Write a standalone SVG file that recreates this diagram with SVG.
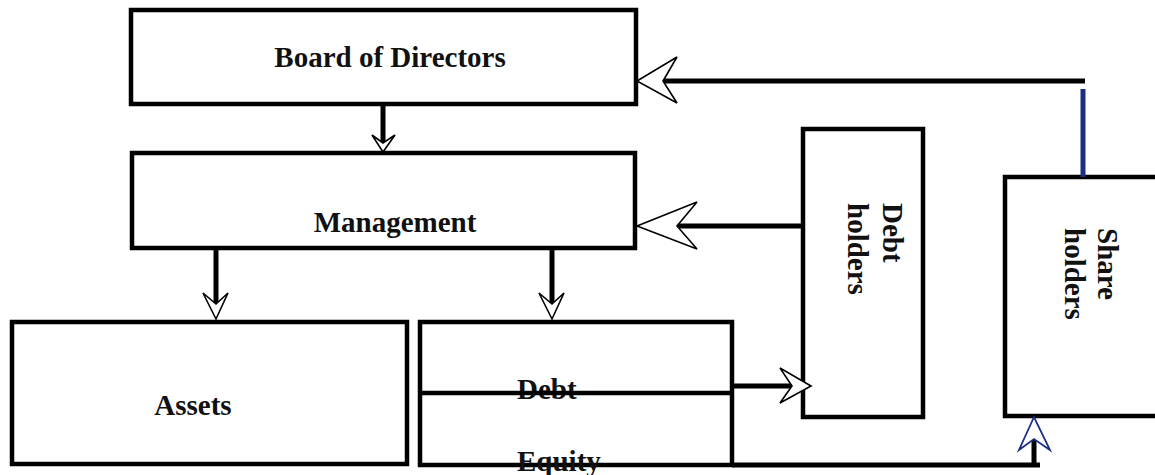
<svg xmlns="http://www.w3.org/2000/svg" width="1155" height="475" viewBox="0 0 1155 475">
<style>
.box{fill:#fff;stroke:#000;stroke-width:4.5}
.lbl{font-family:"Liberation Serif","Times New Roman",serif;font-weight:bold;font-size:29px;fill:#111}
.shaft{stroke:#000;stroke-width:5;fill:none}
.head{fill:#fff;stroke:#000;stroke-width:1.6;stroke-linejoin:miter}
.blue{stroke:#1c2e84}
.bhead{fill:#fff;stroke:#1c2e84;stroke-width:1.8}
</style>
<rect width="1155" height="475" fill="#fff"/>
<g id="board">
<rect class="box" x="131" y="10" width="505" height="94"/>
<text class="lbl" x="390" y="67" text-anchor="middle">Board of Directors</text>
</g>
<g id="management">
<rect class="box" x="132" y="153" width="503" height="95"/>
<text class="lbl" x="395" y="232" text-anchor="middle">Management</text>
</g>
<g id="assets">
<rect class="box" x="12" y="322" width="395" height="142"/>
<text class="lbl" x="193" y="415" text-anchor="middle">Assets</text>
</g>
<g id="debt-equity">
<rect class="box" x="420" y="322" width="312" height="143"/>
<text class="lbl" x="517" y="399">Debt</text>
<text class="lbl" x="517" y="471">Equity</text>
<line x1="420" y1="393" x2="732" y2="393" stroke="#000" stroke-width="4.5"/>
</g>
<g id="debtholders">
<rect class="box" x="803" y="129" width="120" height="288"/>
<text class="lbl" transform="translate(883,203) rotate(90)">Debt</text>
<text class="lbl" transform="translate(848,203) rotate(90)">holders</text>
</g>
<g id="shareholders">
<rect class="box" x="1005" y="177" width="170" height="239"/>
<text class="lbl" transform="translate(1098,228) rotate(90)">Share</text>
<text class="lbl" transform="translate(1065,228) rotate(90)">holders</text>
</g>
<g id="connectors">
<line class="shaft" x1="383" y1="104" x2="383" y2="143"/>
<polygon class="head" points="383,152 372,135 383,143 395,135"/>
<line class="shaft" x1="216" y1="248" x2="216" y2="304"/>
<polygon class="head" points="216,319 203,293 216,304 228,293"/>
<line class="shaft" x1="552" y1="248" x2="552" y2="304"/>
<polygon class="head" points="552,319 539,293 552,304 564,293"/>
<line class="shaft" x1="732" y1="386" x2="792" y2="386"/>
<polygon class="head" points="811,386 780,368 792,386 780,403"/>
<line class="shaft" x1="803" y1="226" x2="677" y2="226"/>
<polygon class="head" points="637,226 697,202 677,226 697,249"/>
<line class="shaft blue" x1="1083" y1="89" x2="1083" y2="177"/>
<line class="shaft" x1="1085" y1="81" x2="663" y2="81" stroke-width="5.5"/>
<polygon class="head" points="637,81 677,57 663,81 677,103"/>
<polyline class="shaft" points="732,465 1040,465" stroke-width="5.5"/>
<line class="shaft" x1="1034" y1="467" x2="1034" y2="439" stroke-width="5.5"/>
<polygon class="bhead" points="1034,417 1019,450 1034,439 1050,450"/>
</g>
</svg>
